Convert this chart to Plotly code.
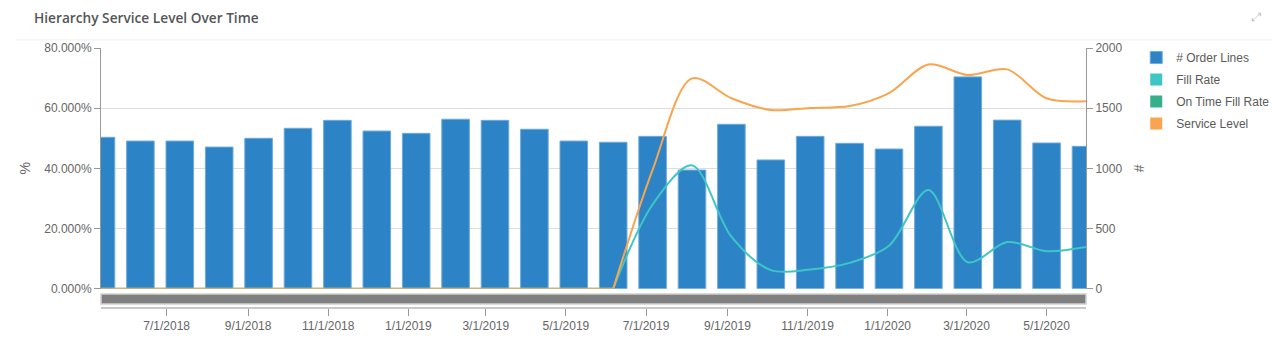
import plotly.graph_objects as go

# ---- data ----
dates = [
    "2018-05-12", "2018-06-11", "2018-07-11", "2018-08-10", "2018-09-09", "2018-10-09",
    "2018-11-08", "2018-12-08", "2019-01-07", "2019-02-06", "2019-03-08", "2019-04-07",
    "2019-05-07", "2019-06-06", "2019-07-06", "2019-08-05", "2019-09-04", "2019-10-04",
    "2019-11-03", "2019-12-03", "2020-01-02", "2020-02-01", "2020-03-02", "2020-04-01",
    "2020-05-01", "2020-05-31",
]
order_lines = [1258, 1227, 1227, 1177, 1250, 1333, 1399, 1310, 1291, 1408, 1399, 1325,
               1227, 1217, 1266, 986, 1366, 1070, 1266, 1208, 1161, 1350, 1760, 1401,
               1211, 1183]
fill_rate = [0, 0, 0, 0, 0, 0, 0, 0, 0, 0, 0, 0,
             0, 0, 0.28, 0.41, 0.173, 0.062, 0.064, 0.086, 0.143, 0.328, 0.088, 0.155,
             0.125, 0.139]
on_time_fill_rate = [None] * 26
service_level = [0, 0, 0, 0, 0, 0, 0, 0, 0, 0, 0, 0,
                 0, 0, 0.395, 0.699, 0.633, 0.594, 0.601, 0.607, 0.65, 0.745, 0.71, 0.729,
                 0.633, 0.623]

x_range = ["2018-05-12", "2020-05-31"]
tick_start = "2018-07-01"

BLUE = "rgb(44,132,198)"
TEAL = "rgb(62,198,198)"
GREEN = "rgb(54,176,139)"
ORANGE = "rgb(249,165,79)"
TXT = "#666666"

DAY_MS = 86400000
bar_w = 21 * DAY_MS

fig = go.Figure()

fig.add_trace(go.Bar(
    x=dates, y=order_lines, name="# Order Lines",
    width=bar_w, offset=-bar_w / 2,
    marker=dict(color=BLUE, line=dict(color="rgb(110,170,220)", width=1)),
    yaxis="y", xaxis="x", legendgroup="a",
))
# legend entries (square swatches)
for nm, col, g in [("Fill Rate", TEAL, "b"), ("On Time Fill Rate", GREEN, "c"),
                   ("Service Level", ORANGE, "d")]:
    fig.add_trace(go.Scatter(
        x=[None], y=[None], mode="markers", name=nm, legendgroup=g,
        marker=dict(symbol="square", size=12, color=col), yaxis="y2",
    ))

fig.add_trace(go.Scatter(
    x=dates, y=on_time_fill_rate, mode="lines", line=dict(color=GREEN, width=2, shape="spline"),
    yaxis="y2", showlegend=False, legendgroup="c",
))


def first_nonzero(vals):
    for i, v in enumerate(vals):
        if v:
            return i
    return len(vals)


# each line: flat leading part (straight) + smoothed remainder, both from the same data
for vals, col, g in [(fill_rate, TEAL, "b"), (service_level, ORANGE, "d")]:
    k = first_nonzero(vals) - 1
    fig.add_trace(go.Scatter(
        x=dates[:k + 1], y=vals[:k + 1], mode="lines",
        line=dict(color=col, width=2), yaxis="y2", showlegend=False, legendgroup=g,
    ))
    fig.add_trace(go.Scatter(
        x=dates[k:], y=vals[k:], mode="lines",
        line=dict(color=col, width=2, shape="spline", smoothing=0.9),
        yaxis="y2", showlegend=False, legendgroup=g,
    ))

# page body has an 8px margin, so the figure is 8px smaller and offsets reduced
fig.update_layout(
    width=1272, height=356,
    margin=dict(l=93, r=194, t=40, b=56, autoexpand=False),
    paper_bgcolor="white", plot_bgcolor="white",
    font=dict(family="Liberation Sans, Arial, sans-serif", size=12, color=TXT),
    showlegend=True,
    barmode="overlay",
    legend=dict(x=1.051, y=1.019, xanchor="left", yanchor="top",
                font=dict(size=12, color="#5a5a5a"), traceorder="grouped",
                tracegroupgap=3, itemclick=False, bgcolor="rgba(0,0,0,0)"),
    xaxis=dict(
        type="date", range=x_range, anchor="free", position=0, automargin=False,
        tick0=tick_start, dtick="M2", tickformat="%-m/%-d/%Y",
        showgrid=False, showline=True, linecolor="#c8c8c8", linewidth=2,
        ticks="outside", ticklen=7, tickcolor="#999999", tickwidth=1,
        tickfont=dict(size=12, color=TXT), zeroline=False,
    ),
    yaxis=dict(
        domain=[0.074, 1], range=[0, 2000], dtick=500, side="right", automargin=False,
        showgrid=True, gridcolor="#dddddd", gridwidth=1,
        showline=True, linecolor="#999999", linewidth=1,
        ticks="outside", ticklen=6, tickcolor="#999999",
        title=dict(text="#", standoff=12, font=dict(size=14, color=TXT)),
        zeroline=False, fixedrange=True,
    ),
    yaxis2=dict(
        overlaying="y", side="left", range=[0, 0.8], dtick=0.2, tickformat=".3%",
        automargin=False,
        showgrid=False, showline=True, linecolor="#999999", linewidth=1,
        ticks="outside", ticklen=6, tickcolor="#999999",
        title=dict(text="%", standoff=10, font=dict(size=14, color=TXT)),
        zeroline=False,
    ),
    shapes=[
        # header separator
        dict(type="line", xref="paper", yref="paper", x0=-0.087, x1=1.2,
             y0=1.031, y1=1.031, line=dict(color="#eeeeee", width=1)),
        # range slider bar below plot
        dict(type="rect", xref="paper", yref="paper", x0=0, x1=1,
             y0=0.0154, y1=0.0538, fillcolor="#808080",
             line=dict(color="#d0d0d0", width=1.5)),
    ],
    annotations=[
        dict(text="Hierarchy Service Level Over Time", xref="paper", yref="paper",
             x=-0.0701, y=1.119, xanchor="left", yanchor="middle", showarrow=False,
             font=dict(family="Open Sans, sans-serif", size=13.7, color="#555555", weight=600)),
        dict(text="⤢", xref="paper", yref="paper", x=1.1736, y=1.119,
             xanchor="center", yanchor="middle", showarrow=False,
             font=dict(family="DejaVu Sans", size=12, color="#c0c0c0")),
    ],
)

fig.write_html("out.html")
